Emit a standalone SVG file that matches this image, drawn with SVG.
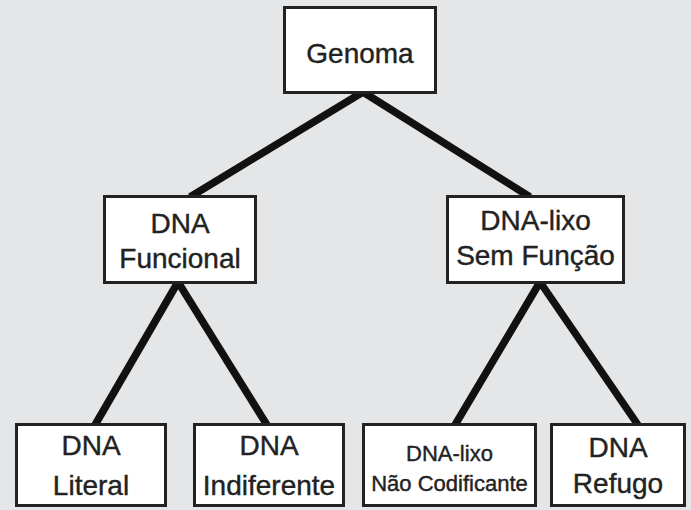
<svg xmlns="http://www.w3.org/2000/svg" width="691" height="510" viewBox="0 0 691 510">
<style>
.bg{fill:#e5e6e7}
.box{fill:#fff;stroke:#222;stroke-width:3}
.t{font-family:"Liberation Sans",Arial,sans-serif;font-size:28px;fill:#222;stroke:#222;stroke-width:0.4;text-anchor:middle}
.s{font-size:22px}
.edge{stroke:#111;stroke-width:7.5;stroke-linecap:butt;fill:none}
</style>
<rect class="bg" x="0" y="0" width="691" height="510"/>
<g id="connectors">
<line class="edge" x1="363" y1="92" x2="190" y2="197"/>
<line class="edge" x1="363" y1="92" x2="530" y2="197"/>
<line class="edge" x1="178" y1="282" x2="95" y2="425"/>
<line class="edge" x1="178" y1="282" x2="267" y2="425"/>
<line class="edge" x1="540" y1="282" x2="455" y2="425"/>
<line class="edge" x1="540" y1="282" x2="638" y2="425"/>
</g>
<g id="genoma">
<rect class="box" x="284.5" y="7.5" width="151" height="85"/>
<text class="t" x="360" y="63">Genoma</text>
</g>
<g id="dna-funcional">
<rect class="box" x="104.5" y="196.5" width="151" height="86"/>
<text class="t" x="180" y="233">DNA</text>
<text class="t" x="180" y="268">Funcional</text>
</g>
<g id="dna-lixo">
<rect class="box" x="447.5" y="196.5" width="176" height="86"/>
<text class="t" x="535.5" y="230">DNA-lixo</text>
<text class="t" x="535.5" y="265">Sem Função</text>
</g>
<g id="dna-literal">
<rect class="box" x="16.5" y="424.5" width="149" height="81"/>
<text class="t" x="91" y="455">DNA</text>
<text class="t" x="91" y="495">Literal</text>
</g>
<g id="dna-indiferente">
<rect class="box" x="194.5" y="424.5" width="149" height="81"/>
<text class="t" x="269" y="455">DNA</text>
<text class="t" x="269" y="495">Indiferente</text>
</g>
<g id="dna-lixo-nao-codificante">
<rect class="box" x="363.5" y="424.5" width="172" height="81"/>
<text class="t s" x="449.5" y="461">DNA-lixo</text>
<text class="t s" x="449.5" y="491">Não Codificante</text>
</g>
<g id="dna-refugo">
<rect class="box" x="551.5" y="424.5" width="133" height="81"/>
<text class="t" x="618" y="457">DNA</text>
<text class="t" x="618" y="493">Refugo</text>
</g>
</svg>
